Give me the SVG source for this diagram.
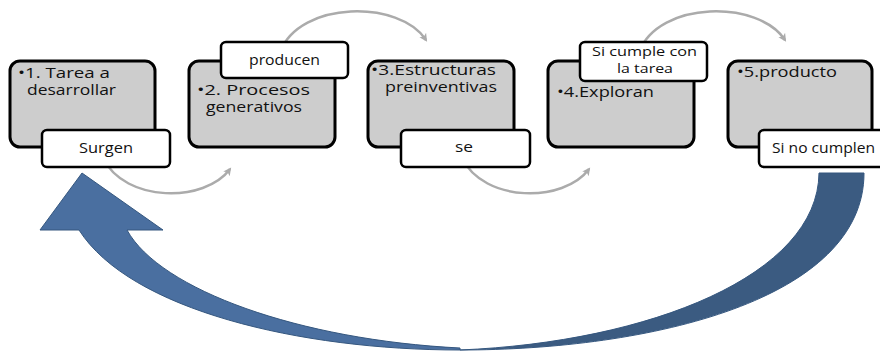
<svg xmlns="http://www.w3.org/2000/svg" width="880" height="351" viewBox="0 0 880 351">
  <defs>
    <marker id="ah" markerUnits="userSpaceOnUse" markerWidth="10" markerHeight="10" refX="6" refY="5" orient="auto">
      <path d="M0,1 L8,5 L0,9 L2,5 Z" fill="#ababab"/>
    </marker>
    <style>
      .box { fill: #cdcdcd; stroke: #000; stroke-width: 3; }
      .lab { fill: #fff; stroke: #000; stroke-width: 2.5; }
      .t { font-family: "Open Sans", "Noto Sans", sans-serif; font-size: 14px; fill: #111; }
      .s { font-size: 13px; }
      .arc { fill: none; stroke: #ababab; stroke-width: 2.5; marker-end: url(#ah); }
      .big { stroke: #35577f; stroke-width: 1; stroke-linejoin: round; }
    </style>
  </defs>
  <rect width="880" height="351" fill="#fff"/>

  <g id="connectors">
    <path class="arc" d="M 280 52 C 300 0, 400 0, 426 40"/>
    <path class="arc" d="M 639 52 C 659 0, 759 0, 785 40"/>
    <path class="arc" d="M 103 158 C 125 203, 205 203, 230 169"/>
    <path class="arc" d="M 462 158 C 484 203, 564 203, 589 169"/>
    <g id="return-arrow">
      <path class="big" fill="#3b5b81" d="M 819 173 L 864 173 C 864 300, 650 350, 460 350 C 650 342, 818 275, 819 173 Z"/>
      <path class="big" fill="#4a6fa0" d="M 460 350 C 300 350, 130 310, 79 230 L 40 230 L 82 173 L 163 230 L 127 230 C 160 290, 300 340, 460 348 Z"/>
    </g>
  </g>

  <g id="node1">
    <rect class="box" x="10" y="61" width="145" height="86" rx="10"/>
    <text class="t" x="18" y="78" textLength="92" lengthAdjust="spacingAndGlyphs">•1. Tarea a</text>
    <text class="t" x="27" y="95" textLength="89" lengthAdjust="spacingAndGlyphs">desarrollar</text>
  </g>
  <g id="node2">
    <rect class="box" x="189" y="61" width="146" height="86" rx="10"/>
    <text class="t" x="197" y="95" textLength="113" lengthAdjust="spacingAndGlyphs">•2. Procesos</text>
    <text class="t" x="206" y="112" textLength="96" lengthAdjust="spacingAndGlyphs">generativos</text>
  </g>
  <g id="node3">
    <rect class="box" x="368" y="61" width="146" height="86" rx="10"/>
    <text class="t" x="371" y="75" textLength="125" lengthAdjust="spacingAndGlyphs">•3.Estructuras</text>
    <text class="t" x="385" y="92" textLength="112" lengthAdjust="spacingAndGlyphs">preinventivas</text>
  </g>
  <g id="node4">
    <rect class="box" x="548" y="61" width="146" height="86" rx="10"/>
    <text class="t" x="557" y="97" textLength="97" lengthAdjust="spacingAndGlyphs">•4.Exploran</text>
  </g>
  <g id="node5">
    <rect class="box" x="728" y="61" width="144" height="86" rx="10"/>
    <text class="t" x="737" y="77" textLength="100" lengthAdjust="spacingAndGlyphs">•5.producto</text>
  </g>

  <g id="label-surgen">
    <rect class="lab" x="42" y="130" width="128" height="37" rx="5"/>
    <text class="t" x="79" y="153" textLength="54" lengthAdjust="spacingAndGlyphs">Surgen</text>
  </g>
  <g id="label-producen">
    <rect class="lab" x="221" y="42" width="127" height="36" rx="5"/>
    <text class="t" x="249" y="65" textLength="71" lengthAdjust="spacingAndGlyphs">producen</text>
  </g>
  <g id="label-se">
    <rect class="lab" x="401" y="130" width="129" height="37" rx="5"/>
    <text class="t" x="455" y="152" textLength="18" lengthAdjust="spacingAndGlyphs">se</text>
  </g>
  <g id="label-si-cumple">
    <rect class="lab" x="580" y="42" width="127" height="39" rx="5"/>
    <text class="t s" x="592" y="56" textLength="105" lengthAdjust="spacingAndGlyphs">Si cumple con</text>
    <text class="t s" x="617" y="73" textLength="56" lengthAdjust="spacingAndGlyphs">la tarea</text>
  </g>
  <g id="label-si-no-cumplen">
    <rect class="lab" x="759" y="130" width="132" height="37" rx="5"/>
    <text class="t" x="772" y="153" textLength="103" lengthAdjust="spacingAndGlyphs">Si no cumplen</text>
  </g>
</svg>
